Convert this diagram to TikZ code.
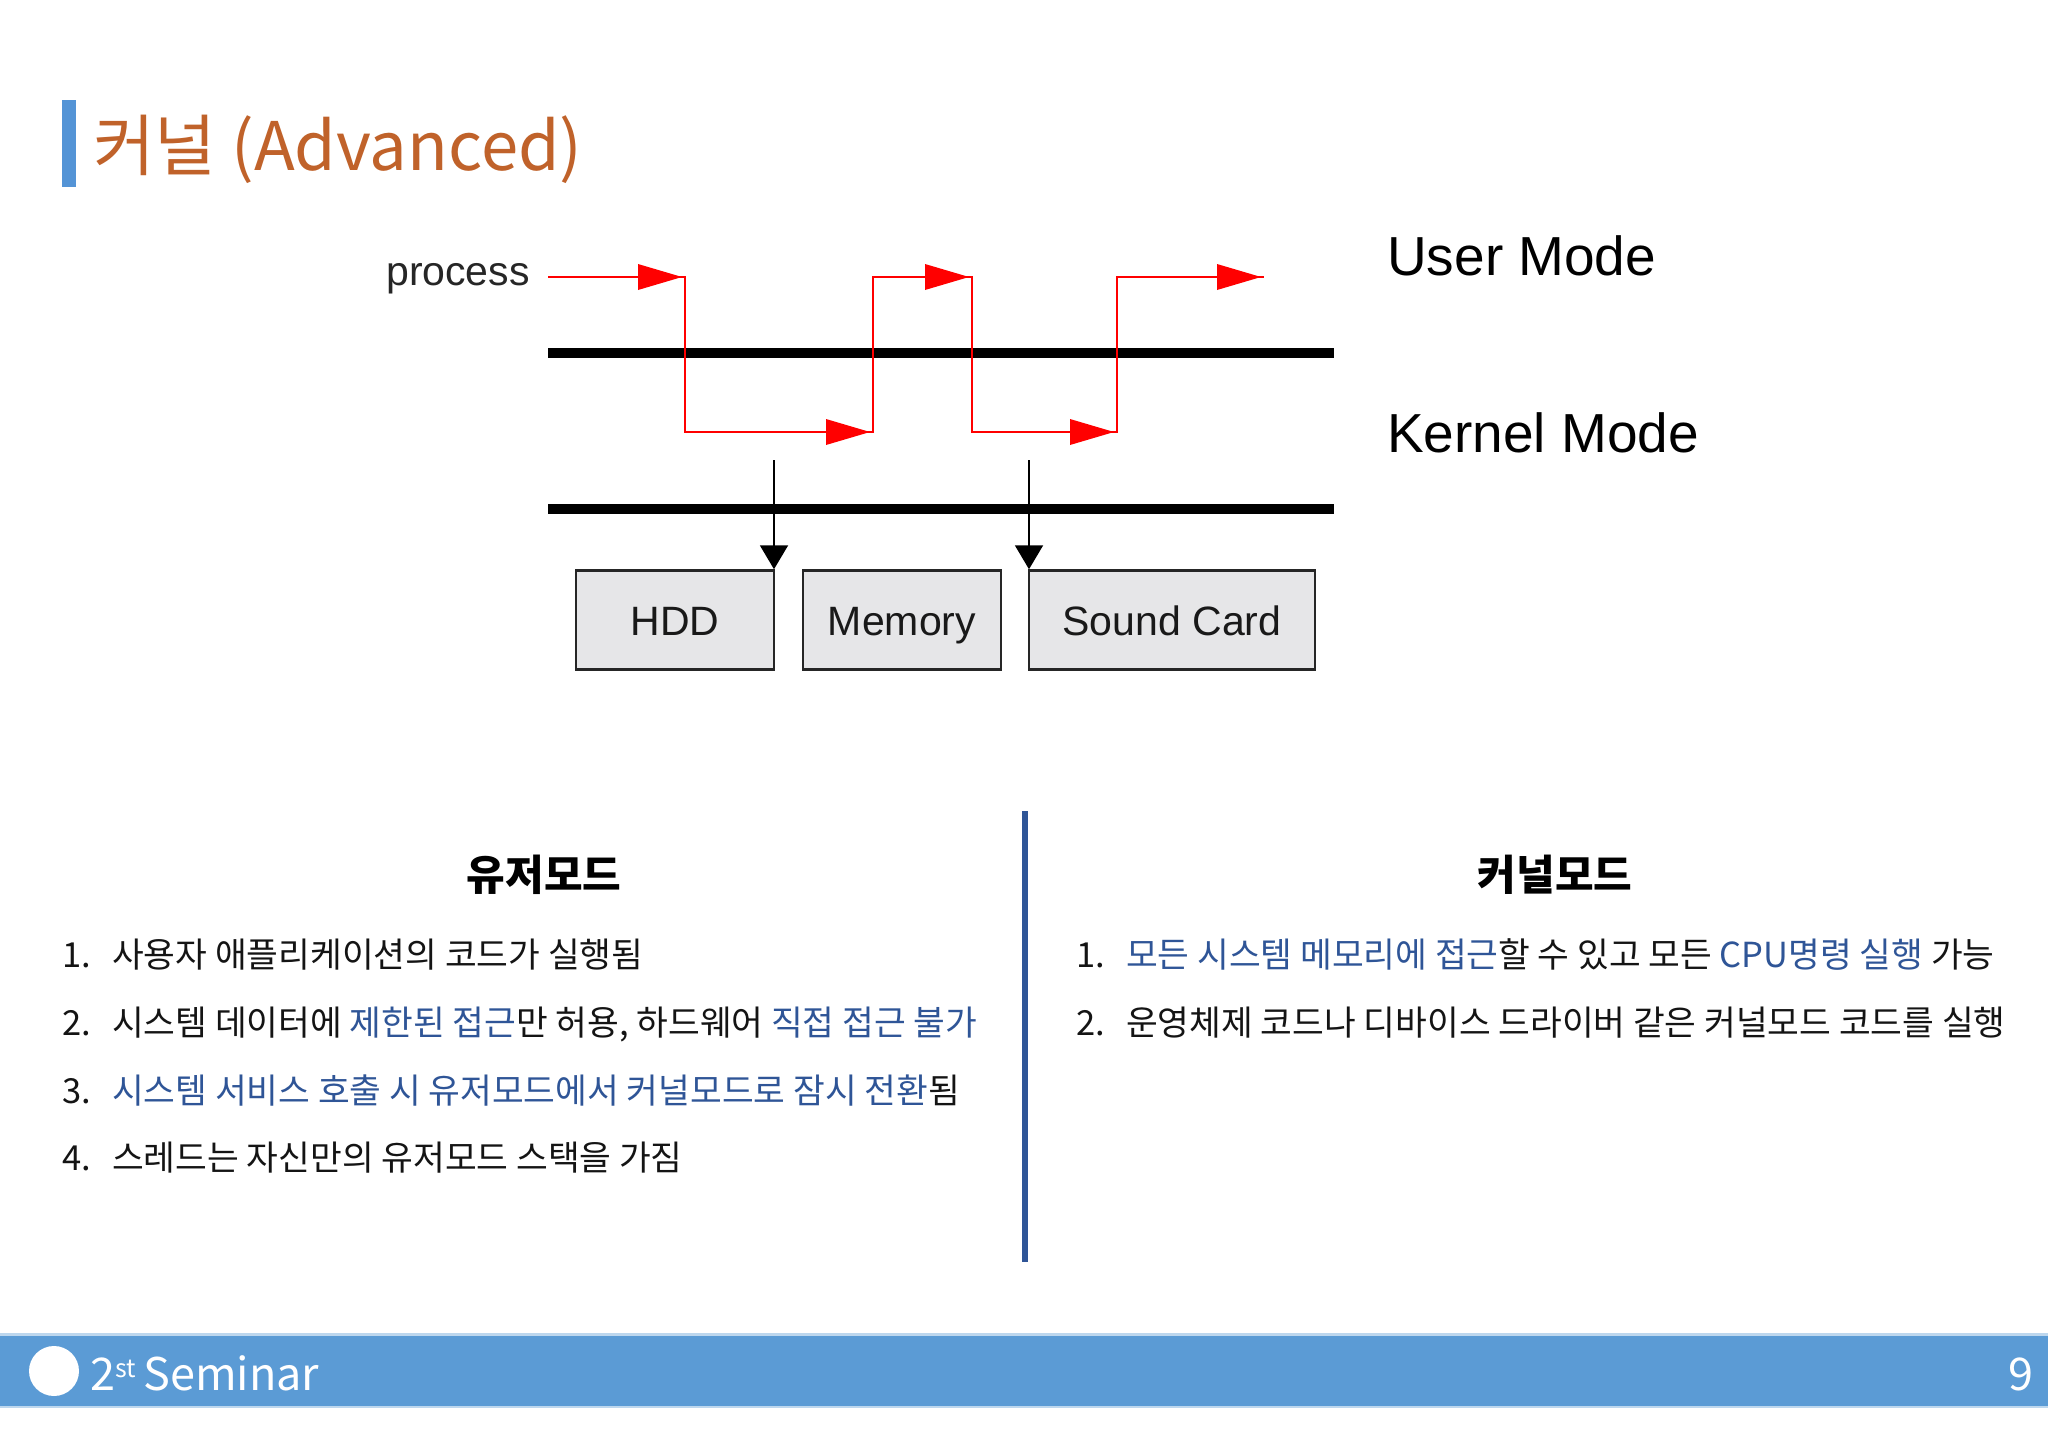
\documentclass[tikz,border=0pt]{standalone}
\usepackage{fontspec}
\usetikzlibrary{arrows.meta}
\setmainfont{Noto Sans CJK KR}
\newfontfamily\diagfont{Liberation Sans}
\definecolor{titleorange}{RGB}{192,98,42}
\definecolor{barblue}{RGB}{84,148,214}
\definecolor{footblue}{RGB}{91,155,213}
\definecolor{footedge}{RGB}{189,215,238}
\definecolor{hl}{RGB}{47,85,151}
\definecolor{divblue}{RGB}{47,85,151}
\definecolor{boxgray}{RGB}{230,230,232}
\definecolor{txt}{RGB}{20,20,20}
\definecolor{procred}{RGB}{255,0,0}
\begin{document}
\begin{tikzpicture}[x=1pt,y=-1pt,
  listtext/.style={anchor=base west,inner sep=0pt,font=\fontsize{34.5}{40}\selectfont,text=txt},
  heading/.style={anchor=base,inner sep=0pt,font=\fontsize{42}{48}\selectfont\bfseries,text=black},
  modelabel/.style={anchor=base west,inner sep=0pt,font=\diagfont\fontsize{55}{62}\selectfont,text=black},
  devbox/.style={draw=black!85,line width=2.5pt,fill=boxgray,inner sep=0pt,minimum height=99pt},
  devlabel/.style={anchor=base,inner sep=0pt,font=\diagfont\fontsize{41}{46}\selectfont,text=black!90},
  modebar/.style={line width=10pt,black},
  redpath/.style={procred,line width=2.2pt},
  callarrow/.style={black,line width=2pt,-{Triangle[length=24pt,width=28pt]}}
]
\useasboundingbox (0,0) rectangle (2048,1448);
\fill[white] (0,0) rectangle (2048,1448);

% title
\fill[barblue] (62,100) rectangle (76,187);
\node[anchor=base west,inner sep=0pt,text=titleorange,font=\fontsize{67}{72}\selectfont] (title) at (93,170) {커널 (Advanced)};

% diagram
\node[anchor=base east,inner sep=0pt,font=\diagfont\fontsize{41}{46}\selectfont,text=black!85] (proc) at (530,285) {process};
\coordinate (p0) at (548,277);
\coordinate (c1) at (685,277);
\coordinate (c2) at (685,432);
\coordinate (c3) at (873,432);
\coordinate (c4) at (873,277);
\coordinate (c5) at (972,277);
\coordinate (c6) at (972,432);
\coordinate (c7) at (1117,432);
\coordinate (c8) at (1117,277);
\coordinate (c9) at (1264,277);
\draw[modebar] (548,353) coordinate (ub0) -- (1334,353) coordinate (ub1);
\draw[modebar] (548,509) coordinate (kb0) -- (1334,509) coordinate (kb1);
\draw[redpath] (p0) -- (c1) -- (c2) -- (c3) -- (c4) -- (c5) -- (c6) -- (c7) -- (c8) -- (c9);
\foreach \t in {c1,c3,c5,c7,c9}{
  \fill[procred] ([xshift=-3pt]\t) -- ++(-44,-13) -- ++(0,26) -- cycle;
}
\node[modelabel] (um) at (1387,275) {User Mode};
\node[modelabel] (km) at (1387,452) {Kernel Mode};

\node[devbox,minimum width=198pt] (hdd) at (675,620) {};
\node[devbox,minimum width=198pt] (mem) at (902,620) {};
\node[devbox,minimum width=286pt] (snd) at (1172,620) {};
\node[devlabel] (hddl) at ([yshift=-15pt]hdd.center) {HDD};
\node[devlabel] (meml) at ([yshift=-15pt]mem.center) {Memory};
\node[devlabel] (sndl) at ([yshift=-15pt]snd.center) {Sound Card};
\coordinate (a1) at (774,460);
\coordinate (a2) at (1029,460);
\draw[callarrow] (a1) -- (a1 |- hdd.north);
\draw[callarrow] (a2) -- (a2 |- snd.north);

% divider
\draw[divblue,line width=6pt] (1025,811) -- (1025,1262);

% left column
\node[heading] (uh) at (544,890) {유저모드};
\node[listtext] (l1n) at (62,967) {1.};
\node[listtext] (l1) at (112,967) {사용자 애플리케이션의 코드가 실행됨};
\node[listtext] (l2n) at (62,1035) {2.};
\node[listtext] (l2) at (112,1035) {시스템 데이터에 \textcolor{hl}{제한된 접근}만 허용, 하드웨어 \textcolor{hl}{직접 접근 불가}};
\node[listtext] (l3n) at (62,1103) {3.};
\node[listtext] (l3) at (112,1103) {\textcolor{hl}{시스템 서비스 호출 시 유저모드에서 커널모드로 잠시 전환}됨};
\node[listtext] (l4n) at (62,1170) {4.};
\node[listtext] (l4) at (112,1170) {스레드는 자신만의 유저모드 스택을 가짐};

% right column
\node[heading] (kh) at (1555,890) {커널모드};
\node[listtext] (r1n) at (1076,967) {1.};
\node[listtext] (r1) at (1126,967) {\textcolor{hl}{모든 시스템 메모리에 접근}할 수 있고 모든 \textcolor{hl}{CPU명령 실행} 가능};
\node[listtext] (r2n) at (1076,1035) {2.};
\node[listtext] (r2) at (1126,1035) {운영체제 코드나 디바이스 드라이버 같은 커널모드 코드를 실행};

% footer
\fill[footedge] (0,1333) rectangle (2048,1336);
\fill[footblue] (0,1336) rectangle (2048,1406);
\fill[footedge] (0,1406) rectangle (2048,1408);
\fill[white] (54,1371) circle (25);
\node[anchor=base west,inner sep=0pt,text=white,font=\fontsize{45}{50}\selectfont] (sem) at (90,1390) {2\raisebox{13pt}{\fontsize{25}{27}\selectfont st}\,Seminar};
\node[anchor=base east,inner sep=0pt,text=white,font=\fontsize{45}{50}\selectfont] (pg) at (2034,1390) {9};
\end{tikzpicture}
\end{document}
